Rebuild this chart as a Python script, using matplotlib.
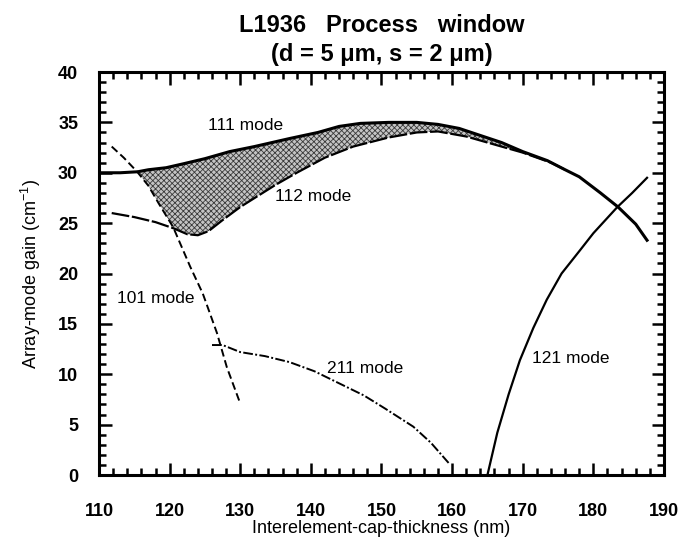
import numpy as np
import matplotlib
matplotlib.use('Agg')
import matplotlib.pyplot as plt
from matplotlib.ticker import MultipleLocator

plt.rcParams['font.family'] = ['Liberation Sans', 'DejaVu Sans']
plt.rcParams['hatch.linewidth'] = 0.6

# 111 mode (upper edge of the process window)
x111 = [110, 113, 115.5, 117, 119.5, 122, 125, 128.5, 132, 137, 141, 144, 147, 151,
        155, 158, 161, 164, 167, 170, 173.5, 176, 178, 181, 183.5, 186, 187.6]
y111 = [30.0, 30.0, 30.1, 30.3, 30.5, 30.9, 31.4, 32.1, 32.6, 33.4, 34.0, 34.6, 34.9, 35.0,
        35.0, 34.8, 34.4, 33.7, 33.0, 32.1, 31.2, 30.3, 29.6, 28.0, 26.6, 24.9, 23.3]

# 112 mode
x112 = [111.8, 115, 118, 120.5, 122.5, 124, 125.5, 127.5, 130, 132.5, 135, 138, 142, 146,
        151, 155, 158, 162, 166, 170, 174, 176]
y112 = [26.0, 25.6, 25.1, 24.5, 23.9, 23.8, 24.2, 25.3, 26.6, 27.7, 28.8, 30.0, 31.5, 32.6,
        33.5, 34.0, 34.1, 33.6, 32.8, 32.0, 31.0, 30.3]

# 101 mode
x101 = [111.8, 113.5, 115.4, 117, 118.5, 120.5, 122.9, 124.7, 126.7, 128.1, 130]
y101 = [32.6, 31.5, 30.1, 28.7, 26.9, 24.6, 20.7, 18.0, 14.1, 10.7, 7.1]

# 211 mode
x211 = [126, 127.5, 130, 133.5, 137, 140.5, 144, 147.5, 150.5, 154.5, 157, 159.5]
y211 = [12.9, 12.9, 12.2, 11.8, 11.2, 10.3, 9.1, 7.9, 6.6, 4.8, 3.2, 1.2]

# 121 mode
x121 = [165, 166.4, 168, 169.6, 171.5, 173.4, 175.5, 178.1, 180, 183.4, 185.5, 187.6]
y121 = [0, 4.2, 8.0, 11.4, 14.6, 17.4, 20.0, 22.3, 24.0, 26.6, 28.0, 29.5]

fig = plt.figure(figsize=(6.88, 5.48), dpi=100)
ax = fig.add_axes([0.1439, 0.1332, 0.8212, 0.7354])

# process window: below 111 mode, above both 112 and 101 modes
xw = np.linspace(115.4, 174, 300)
top = np.interp(xw, x111, y111)
low = np.maximum(np.interp(xw, x112, y112), np.interp(xw, x101, y101))
ax.fill_between(xw, low, top, where=top >= low, facecolor='#c4c4c4',
                edgecolor='#3a3a3a', hatch='xxxxxx', linewidth=0)

ax.plot(x111, y111, color='black', lw=2.2)
ax.plot(x112, y112, color='black', lw=1.6, dashes=(8, 1.2))
ax.plot(x101, y101, color='black', lw=1.4, dashes=(4, 2))
ax.plot(x211, y211, color='black', lw=1.4, dashes=(5, 1.2, 1, 1.2))
ax.plot(x121, y121, color='black', lw=1.6)

lab = dict(fontsize=12.5, va='center', ha='left')
ax.text(125.4, 34.7, '111 mode', **lab)
ax.text(134.9, 27.6, '112 mode', **lab)
ax.text(112.5, 17.5, '101 mode', **lab)
ax.text(142.3, 10.6, '211 mode', **lab)
ax.text(171.3, 11.6, '121 mode', **lab)

ax.set_xlim(110, 190)
ax.set_ylim(0, 40)
ax.xaxis.set_major_locator(MultipleLocator(10))
ax.xaxis.set_minor_locator(MultipleLocator(2))
ax.yaxis.set_major_locator(MultipleLocator(5))
ax.yaxis.set_minor_locator(MultipleLocator(1))
ax.tick_params(which='both', direction='in', top=True, right=True, width=1.8)
ax.tick_params(which='major', length=9)
ax.tick_params(which='minor', length=5)
ax.tick_params(axis='x', which='major', pad=20, labelsize=13)
ax.tick_params(axis='y', which='major', pad=15, labelsize=13)
for t in ax.get_xticklabels() + ax.get_yticklabels():
    t.set_fontweight('bold')
for s in ax.spines.values():
    s.set_linewidth(2.2)

ax.set_xlabel('Interelement-cap-thickness (nm)', fontsize=13, labelpad=0)
ax.set_ylabel('Array-mode gain (cm$^{\\mathregular{-1}}$)', fontsize=13, labelpad=11)
ax.set_title('L1936   Process   window\n(d = 5 \u03bcm, s = 2 \u03bcm)',
             fontsize=17, fontweight='bold', linespacing=1.3, pad=8)

fig.savefig('out.png', dpi=100)
